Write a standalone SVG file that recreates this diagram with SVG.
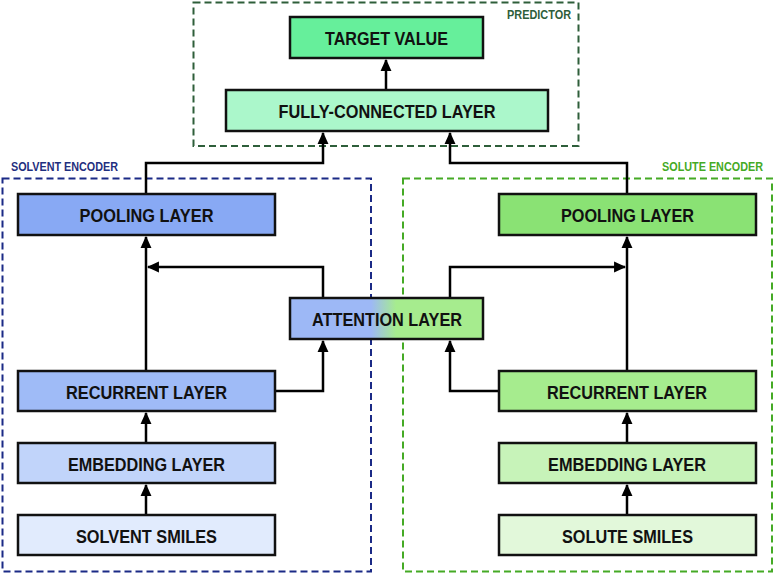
<svg xmlns="http://www.w3.org/2000/svg" width="774" height="574" viewBox="0 0 774 574">
<defs>
<style>
.box{stroke:#111;stroke-width:2.5}
.lbl{font-family:"Liberation Sans",Arial,sans-serif;font-weight:bold;font-size:19px;fill:#111;text-anchor:middle}
.grp{font-family:"Liberation Sans",Arial,sans-serif;font-weight:bold;font-size:12px}
.con{fill:none;stroke:#000;stroke-width:2.5;marker-end:url(#ah)}
.dash{fill:none;stroke-width:2;stroke-dasharray:7,4}
</style>
<marker id="ah" markerUnits="userSpaceOnUse" markerWidth="12" markerHeight="12" refX="10" refY="5.5" orient="auto" viewBox="0 0 11 11">
<path d="M0,0.5 L11,5.5 L0,10.5 z" fill="#000"/>
</marker>
<linearGradient id="att" x1="290" y1="0" x2="483" y2="0" gradientUnits="userSpaceOnUse">
<stop offset="0.42" stop-color="#9db8f6"/>
<stop offset="0.55" stop-color="#a6ec8e"/>
</linearGradient>
</defs>
<rect width="774" height="574" fill="#fff"/>
<g id="predictor-group">
<rect class="dash" x="193.5" y="2.5" width="385" height="143.5" stroke="#2e5e3a"/>
<text class="grp" x="571" y="19" fill="#2e5e3a" text-anchor="end" textLength="64" lengthAdjust="spacingAndGlyphs">PREDICTOR</text>
</g>
<g id="solvent-encoder">
<rect class="dash" x="2.5" y="178.5" width="368.5" height="393" stroke="#1b2a86"/>
<text class="grp" x="11" y="171" fill="#1f2f80" textLength="107" lengthAdjust="spacingAndGlyphs">SOLVENT ENCODER</text>
</g>
<g id="solute-encoder">
<rect class="dash" x="403" y="178.5" width="369" height="393" stroke="#45aa25"/>
<text class="grp" x="763" y="171" fill="#45aa25" text-anchor="end" textLength="101" lengthAdjust="spacingAndGlyphs">SOLUTE ENCODER</text>
</g>
<g id="connectors">
<path class="con" d="M386,90 V60"/>
<path class="con" d="M146,194 V163 H323 V133"/>
<path class="con" d="M627,194 V163 H450 V133"/>
<path class="con" d="M146,371 V237"/>
<path class="con" d="M627,371 V237"/>
<path class="con" d="M323,298 V267 H148"/>
<path class="con" d="M450,298 V267 H625"/>
<path class="con" d="M275,391 H323 V341"/>
<path class="con" d="M499,391 H450 V341"/>
<path class="con" d="M146,443 V413"/>
<path class="con" d="M146,515 V485"/>
<path class="con" d="M627,443 V413"/>
<path class="con" d="M627,515 V485"/>
</g>
<g id="target-value">
<rect class="box" x="290" y="17" width="193" height="41" fill="#66ef9b"/>
<text class="lbl" x="386.5" y="45" textLength="123" lengthAdjust="spacingAndGlyphs">TARGET VALUE</text>
</g>
<g id="fully-connected">
<rect class="box" x="226" y="90" width="322" height="41" fill="#abf7cb"/>
<text class="lbl" x="387" y="118" textLength="217" lengthAdjust="spacingAndGlyphs">FULLY-CONNECTED LAYER</text>
</g>
<g id="solvent-pooling">
<rect class="box" x="18" y="194" width="257" height="41" fill="#88a9f4"/>
<text class="lbl" x="146.5" y="222" textLength="134" lengthAdjust="spacingAndGlyphs">POOLING LAYER</text>
</g>
<g id="solute-pooling">
<rect class="box" x="499" y="194" width="257" height="41" fill="#8ae274"/>
<text class="lbl" x="627.5" y="222" textLength="133" lengthAdjust="spacingAndGlyphs">POOLING LAYER</text>
</g>
<g id="attention">
<rect class="box" x="290" y="298" width="193" height="41" fill="url(#att)"/>
<text class="lbl" x="387" y="326" textLength="150" lengthAdjust="spacingAndGlyphs">ATTENTION LAYER</text>
</g>
<g id="solvent-recurrent">
<rect class="box" x="18" y="371" width="257" height="40" fill="#9fbbf7"/>
<text class="lbl" x="146.5" y="398.5" textLength="161" lengthAdjust="spacingAndGlyphs">RECURRENT LAYER</text>
</g>
<g id="solute-recurrent">
<rect class="box" x="499" y="371" width="257" height="40" fill="#a6ec8e"/>
<text class="lbl" x="627" y="398.5" textLength="160" lengthAdjust="spacingAndGlyphs">RECURRENT LAYER</text>
</g>
<g id="solvent-embedding">
<rect class="box" x="18" y="443" width="257" height="40" fill="#c1d4fa"/>
<text class="lbl" x="146.5" y="470.5" textLength="157" lengthAdjust="spacingAndGlyphs">EMBEDDING LAYER</text>
</g>
<g id="solute-embedding">
<rect class="box" x="499" y="443" width="257" height="40" fill="#c7f3b9"/>
<text class="lbl" x="627" y="470.5" textLength="158" lengthAdjust="spacingAndGlyphs">EMBEDDING LAYER</text>
</g>
<g id="solvent-smiles">
<rect class="box" x="18" y="515" width="257" height="40" fill="#e1ebfd"/>
<text class="lbl" x="146.5" y="542.5" textLength="141" lengthAdjust="spacingAndGlyphs">SOLVENT SMILES</text>
</g>
<g id="solute-smiles">
<rect class="box" x="499" y="515" width="257" height="40" fill="#e2f8da"/>
<text class="lbl" x="627.5" y="542.5" textLength="131" lengthAdjust="spacingAndGlyphs">SOLUTE SMILES</text>
</g>
</svg>
